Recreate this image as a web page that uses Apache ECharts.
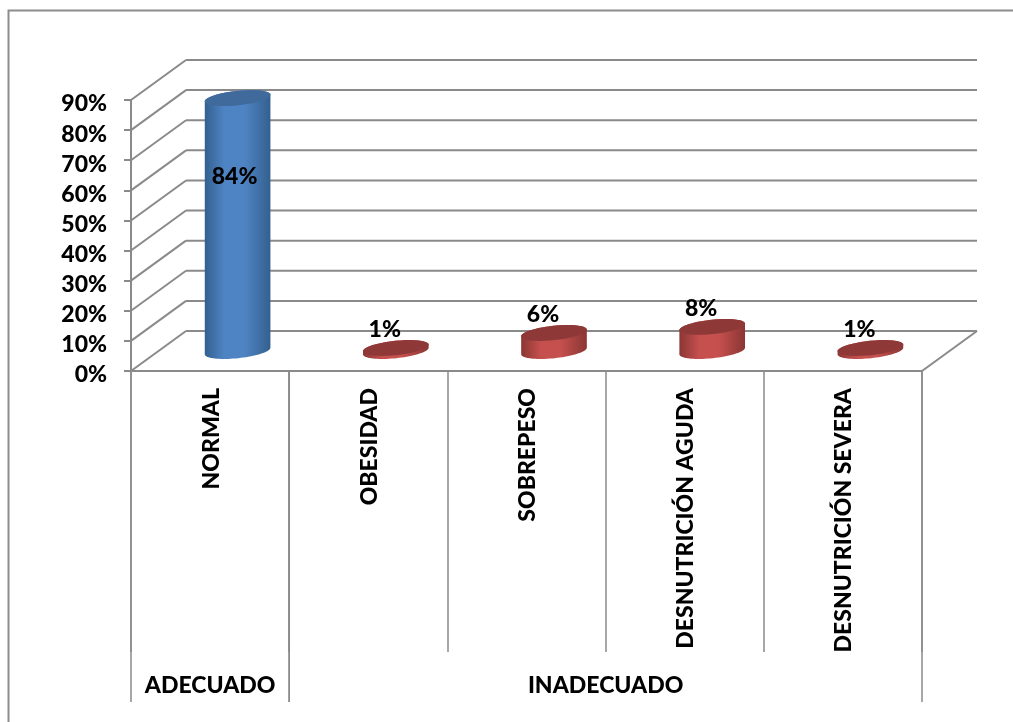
<!DOCTYPE html>
<html><head><meta charset="utf-8">
<style>html,body{margin:0;padding:0;background:#fff}#c{width:1013px;height:722px}</style>
<script src="https://cdn.jsdelivr.net/npm/echarts@6/dist/echarts.min.js"></script>
</head><body><div id="c"></div>
<script>
const categories = ["NORMAL","OBESIDAD","SOBREPESO","DESNUTRICIÓN AGUDA","DESNUTRICIÓN SEVERA"];
const values = [84,1,6,8,1];
const groupNames = ["ADECUADO","INADECUADO"];
const groupStarts = [0,1];
const groupEnds = [1,5];
const barGroup = [0,1,1,1,1];
const groupEdge = ["#33608f","#8a3634"];
const groupMid = ["#4f84c4","#c5504e"];
const groupTop = ["#3f6a9b","#8e3938"];
const yTicks = [0,10,20,30,40,50,60,70,80,90];

const FONT = 'Lato, Carlito, Calibri, sans-serif';
const FS = 23;
const WEIGHT = 900;
const GRID = '#8a8a8a';
const DX = 55, DY = -40;
const RX = 33, RY = 7.2, TILT = -6 * Math.PI / 180;

function ellipsePts(cx, cy, from, to) {
  const pts = [];
  const n = 40;
  for (let i = 0; i <= n; i++) {
    const t = from + (to - from) * i / n;
    const x = RX * Math.cos(t), y = RY * Math.sin(t);
    pts.push([cx + x * Math.cos(TILT) - y * Math.sin(TILT), cy + x * Math.sin(TILT) + y * Math.cos(TILT)]);
  }
  return pts;
}
const lineStyle = {stroke: GRID, lineWidth: 2};
function seg(x1, y1, x2, y2) {
  return {type: 'line', shape: {x1, y1, x2, y2}, style: lineStyle};
}
const labelFont = {color: '#000', fontFamily: FONT, fontWeight: WEIGHT, fontSize: FS};

const option = {
  animation: false,
  backgroundColor: '#fff',
  graphic: [{type: 'polyline', silent: true, z: -10,
    shape: {points: [[8.5, 722], [8.5, 10.5], [1013, 10.5]]},
    style: {fill: 'none', stroke: '#8c8c8c', lineWidth: 2}}],
  grid: {left: 131, right: 91, top: 100, bottom: 351, containLabel: false},
  xAxis: [{
    type: 'category', data: categories,
    axisLine: {show: true, lineStyle: {color: GRID, width: 2}},
    axisTick: {show: true, length: 281, alignWithLabel: false, lineStyle: {color: GRID, width: 1.5}},
    axisLabel: Object.assign({rotate: 90, interval: 0, margin: 17, verticalAlign: 'middle',
      formatter: v => '{t|' + v + '}',
      rich: {t: Object.assign({padding: [2, 0, 0, 0]}, labelFont)}}, labelFont),
    splitLine: {show: false}
  }, {
    type: 'value', min: 0, max: 5, show: false, position: 'bottom'
  }],
  yAxis: {
    type: 'value', min: 0, max: 90, interval: 10,
    axisLine: {show: true, lineStyle: {color: GRID, width: 2}},
    axisTick: {show: true, length: 7, lineStyle: {color: GRID, width: 2}},
    axisLabel: Object.assign({margin: 24,
      formatter: v => '{t|' + v + '%}',
      rich: {t: Object.assign({padding: [8, 0, 0, 0]}, labelFont)}}, labelFont),
    splitLine: {show: false}
  },
  series: [{
    type: 'custom', xAxisIndex: 1, yAxisIndex: 0, clip: false, z: 1, silent: true,
    data: yTicks.map(v => [v]),
    renderItem(params, api) {
      const v = api.value(0);
      const a = api.coord([0, v]), b = api.coord([5, v]);
      const kids = [
        seg(a[0], a[1], a[0] + DX, a[1] + DY),
        seg(a[0] + DX, a[1] + DY, b[0] + DX, b[1] + DY)
      ];
      if (v === 0) kids.push(seg(b[0], b[1], b[0] + DX, b[1] + DY));
      return {type: 'group', children: kids};
    }
  }, {
    type: 'custom', xAxisIndex: 1, yAxisIndex: 0, clip: false, z: 2, silent: true,
    data: groupNames.map((n, i) => [groupStarts[i], groupEnds[i], n]),
    renderItem(params, api) {
      const s = api.coord([api.value(0), 0]), e = api.coord([api.value(1), 0]);
      const bottom = s[1] + 331;
      return {type: 'group', children: [
        {type: 'line', shape: {x1: s[0], y1: s[1], x2: s[0], y2: bottom}, style: {stroke: GRID, lineWidth: 1.5}},
        {type: 'line', shape: {x1: e[0], y1: e[1], x2: e[0], y2: bottom}, style: {stroke: GRID, lineWidth: 1.5}},
        {type: 'text', x: (s[0] + e[0]) / 2, y: s[1] + 315,
          style: {text: groupNames[params.dataIndex], font: WEIGHT + ' ' + FS + 'px ' + FONT, fill: '#000', align: 'center', verticalAlign: 'middle'}}
      ]};
    }
  }, {
    type: 'custom', xAxisIndex: 0, yAxisIndex: 0, clip: false, z: 3, silent: true,
    data: values.map((v, i) => [i, v, barGroup[i]]),
    renderItem(params, api) {
      const i = api.value(0), v = api.value(1), g = api.value(2);
      const base = api.coord([i, 0]), top = api.coord([i, v]);
      const cx = base[0] + DX / 2, by = base[1] + DY / 2, ty = top[1] + DY / 2;
      const body = ellipsePts(cx, by, 0, Math.PI).concat(ellipsePts(cx, ty, Math.PI, 2 * Math.PI));
      const inside = v > 50;
      const lx = inside ? cx - 3 : cx - 11;
      const ly = inside ? ty + 79 : ty - 18;
      return {type: 'group', children: [
        {type: 'polygon', shape: {points: body}, style: {fill: new echarts.graphic.LinearGradient(0, 0, 1, 0, [
          {offset: 0, color: groupEdge[g]}, {offset: 0.3, color: groupMid[g]}, {offset: 0.6, color: groupMid[g]}, {offset: 1, color: groupEdge[g]}])}},
        {type: 'polygon', shape: {points: ellipsePts(cx, ty, 0, 2 * Math.PI)}, style: {fill: groupTop[g]}},
        {type: 'text', x: lx, y: ly, style: {text: v + '%', font: WEIGHT + ' ' + FS + 'px ' + FONT, fill: '#000', align: 'center', verticalAlign: 'middle'}}
      ]};
    }
  }]
};
const chart = echarts.init(document.getElementById('c'), null, {renderer: 'canvas'});
chart.setOption(option);
</script></body></html>
